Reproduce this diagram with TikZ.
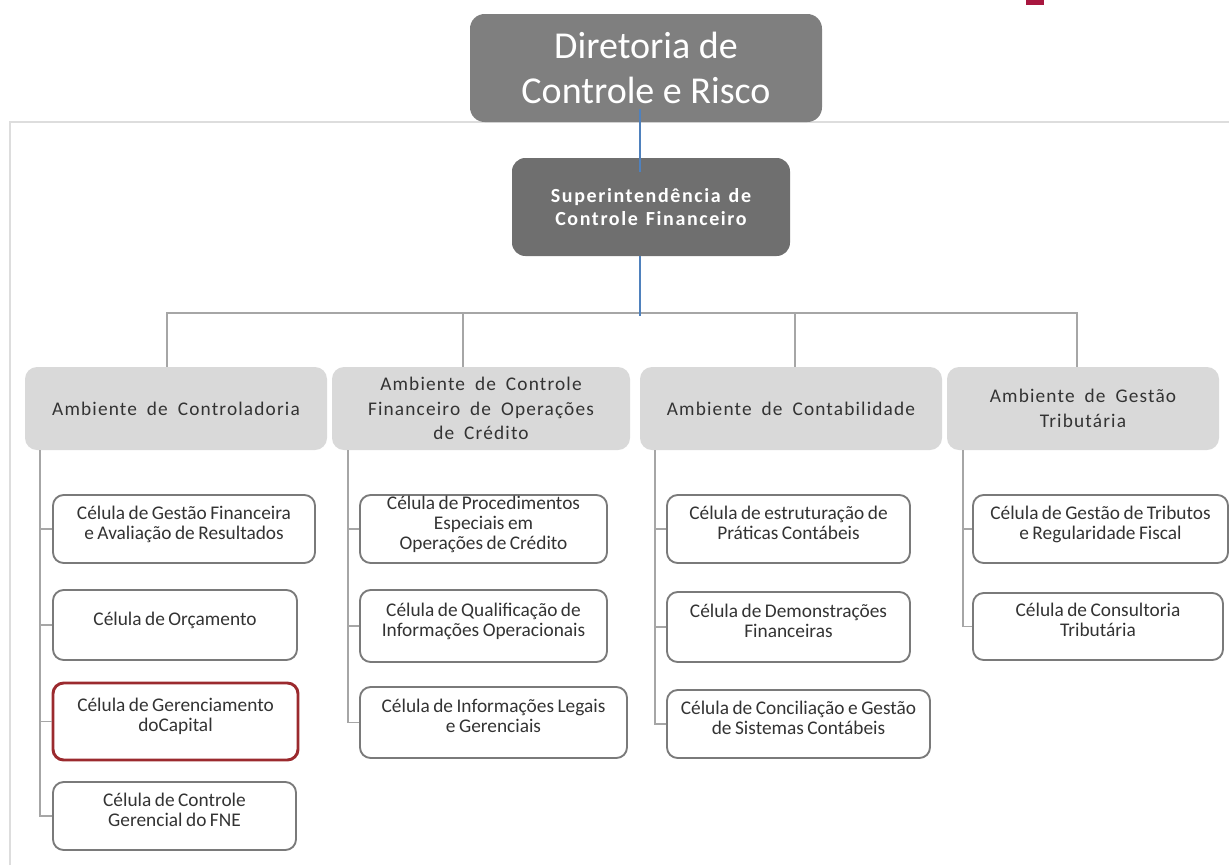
\documentclass[tikz,border=0pt]{standalone}
\usepackage{fontspec}
\setmainfont{Carlito}
\newfontfamily\ambfont[LetterSpace=6,WordSpace=1.8]{Carlito}
\newfontfamily\supfont[LetterSpace=8,WordSpace=1.3]{Carlito}
\newfontfamily\cellfont[WordSpace=0.8]{Carlito}
\definecolor{dirgray}{HTML}{7F7F7F}
\definecolor{supgray}{HTML}{6F6F6F}
\definecolor{ambgray}{HTML}{D9D9D9}
\definecolor{txtgray}{HTML}{333333}
\definecolor{cellgray}{HTML}{7A7A7A}
\definecolor{cellred}{HTML}{9B2A2E}
\definecolor{conngray}{HTML}{A6A6A6}
\definecolor{framegray}{HTML}{DDDDDD}
\definecolor{bluecon}{HTML}{4F81BD}
\definecolor{markred}{HTML}{A8163F}
\tikzset{
  sz/.style 2 args={minimum width=#1*0.75pt, minimum height=#2*0.75pt},
  dirbox/.style={fill=dirgray, rounded corners=11pt, text=white, inner sep=0pt, align=center,
    font=\fontsize{28.5}{34}\selectfont},
  supbox/.style={fill=supgray, rounded corners=10pt, text=white, inner sep=0pt, align=center,
    font=\supfont\bfseries\fontsize{15}{17}\selectfont},
  ambbox/.style={fill=ambgray, rounded corners=9pt, text=txtgray, inner sep=0pt, align=center,
    font=\ambfont\fontsize{14.5}{18.4}\selectfont},
  cellbox/.style={draw=cellgray, line width=1.4pt, fill=white, rounded corners=8pt, text=txtgray,
    inner sep=0pt, align=center, text depth=10pt, font=\cellfont\fontsize{14.5}{15}\selectfont},
  redcell/.style={cellbox, draw=cellred, line width=2.2pt},
  conn/.style={draw=conngray, line width=1.4pt},
  blueconn/.style={draw=bluecon, line width=0.9pt},
  frameline/.style={draw=framegray, line width=1.5pt}
}
\begin{document}
\begin{tikzpicture}[x=0.75pt,y=-0.75pt]
\useasboundingbox (0,0) rectangle (1229,865);
% frame
\coordinate (fbl) at (10,865);
\coordinate (ftl) at (10,122);
\coordinate (ftr) at (1229,122);
\draw[frameline] (fbl) -- (ftl) -- (ftr);
% red mark
\fill[markred] (1026,0) rectangle (1044,5);
% top boxes
\node[dirbox, sz={352}{108}] (dir) at (646,68) {Diretoria de\\Controle e Risco};
\node[supbox, sz={278}{98}] (sup) at (651,207) {Superintendência de\\Controle Financeiro};
% ambientes
\node[ambbox, sz={302}{83}] (a1) at (176,408.5) {Ambiente de Controladoria};
\node[ambbox, sz={298}{83}] (a2) at (481,408.5) {Ambiente de Controle\\Financeiro de Operações\\de Crédito};
\node[ambbox, sz={302}{83}] (a3) at (791,408.5) {Ambiente de Contabilidade};
\node[ambbox, sz={272}{83}] (a4) at (1083,408.5) {Ambiente de Gestão\\Tributária};
% cells column 1
\node[cellbox, sz={262}{68}] (c1a) at (184,529) {Célula de Gestão Financeira\\e Avaliação de Resultados};
\node[cellbox, sz={244}{70}] (c1b) at (175,625) {Célula de Orçamento};
\node[redcell, sz={245}{77}] (c1c) at (175.5,721.5) {Célula de Gerenciamento\\doCapital};
\node[cellbox, sz={243}{68}] (c1d) at (174.5,816) {Célula de Controle\\Gerencial do FNE};
% column 2
\node[cellbox, sz={247}{68}] (c2a) at (483.5,529) {Célula de Procedimentos\\Especiais em\\Operações de Crédito};
\node[cellbox, sz={247}{72}] (c2b) at (483.5,626) {Célula de Qualificação de\\Informações Operacionais};
\node[cellbox, sz={267}{71}] (c2c) at (493.5,722.5) {Célula de Informações Legais\\e Gerenciais};
% column 3
\node[cellbox, sz={243}{68}] (c3a) at (788.5,529) {Célula de estruturação de\\Práticas Contábeis};
\node[cellbox, sz={243}{70}] (c3b) at (788.5,627) {Célula de Demonstrações\\Financeiras};
\node[cellbox, sz={263}{68}] (c3c) at (798.5,724) {Célula de Conciliação e Gestão\\de Sistemas Contábeis};
% column 4
\node[cellbox, sz={255}{68}] (c4a) at (1100.5,529) {Célula de Gestão de Tributos\\e Regularidade Fiscal};
\node[cellbox, sz={250}{67}] (c4b) at (1098,626.5) {Célula de Consultoria\\Tributária};
% connectors to ambientes
\coordinate (h1) at (167,313);
\coordinate (h2) at (463,313);
\coordinate (h3) at (795,313);
\coordinate (h4) at (1077,313);
\coordinate (hb) at (640,316);
\draw[conn] (a1.north -| h1) -- (h1) -- (h4) -- (a4.north -| h4);
\draw[conn] (h2) -- (a2.north -| h2);
\draw[conn] (h3) -- (a3.north -| h3);
% blue connectors
\coordinate (bx1) at (640,109);
\coordinate (bx2) at (640,172);
\draw[blueconn] (bx1) -- (bx2);
\draw[blueconn] (sup.south -| hb) -- (hb);
% column connectors
\coordinate (v1) at (40,0);
\coordinate (v2) at (348,0);
\coordinate (v3) at (655,0);
\coordinate (v4) at (963,0);
\draw[conn] (a1.south -| v1) |- (c1d.west);
\foreach \c in {c1a,c1b,c1c} \draw[conn] (v1 |- \c.west) -- (\c.west);
\draw[conn] (a2.south -| v2) |- (c2c.west);
\foreach \c in {c2a,c2b} \draw[conn] (v2 |- \c.west) -- (\c.west);
\draw[conn] (a3.south -| v3) |- (c3c.west);
\foreach \c in {c3a,c3b} \draw[conn] (v3 |- \c.west) -- (\c.west);
\draw[conn] (a4.south -| v4) |- (c4b.west);
\draw[conn] (v4 |- c4a.west) -- (c4a.west);
\end{tikzpicture}
\end{document}
